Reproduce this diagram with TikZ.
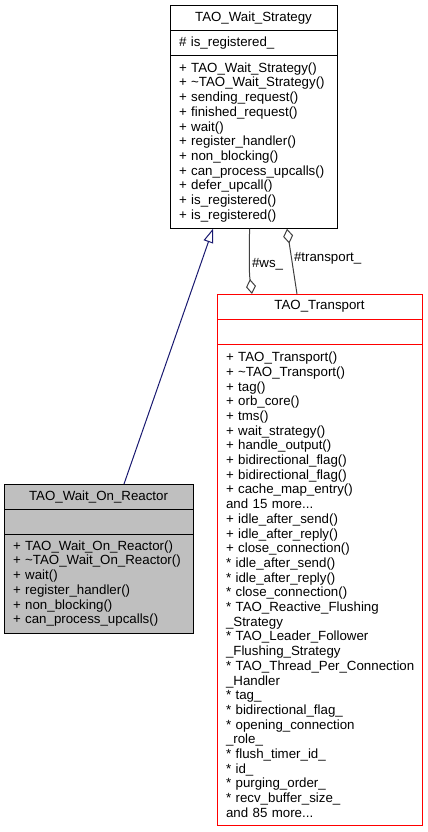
\documentclass[tikz,border=0pt]{standalone}
\usepackage{fontspec}
\setmainfont{Liberation Sans}
\usetikzlibrary{arrows.meta, positioning}
\definecolor{edgeNavy}{RGB}{25, 25, 112}
\definecolor{edgeGray}{RGB}{64, 64, 64}
\definecolor{transportRed}{RGB}{255, 0, 0}
\colorlet{reactorFill}{black!25}
\tikzset{
    compartment/.style={draw, line width=1pt, anchor=north west, inner xsep=9pt, inner ysep=0pt,
                        outer sep=0pt, align=left, font=\fontsize{13.3pt}{14.7pt}\selectfont},
    titlecell/.style={compartment, align=center, minimum height=25pt},
    emptycell/.style={compartment, minimum height=25pt},
    inherit/.style={draw=edgeNavy, line width=1pt, -{Triangle[open, length=14pt, width=10pt]}},
    aggregate/.style={draw=edgeGray, line width=1pt, -{Diamond[open, length=15pt, width=10pt]}},
    edgelabel/.style={font=\fontsize{13.3pt}{14.7pt}\selectfont, inner xsep=2pt}
}

\begin{document}
\begin{tikzpicture}[x=1pt, y=-1pt]
    \useasboundingbox (0,0) rectangle (428,832);

    % TAO_Wait_Strategy
    \node[titlecell, text width=149pt, minimum width=167pt] (strategyTitle) at (170,6) {TAO\_Wait\_Strategy};
    \node[emptycell, text width=149pt, minimum width=167pt, below=0pt of strategyTitle] (strategyAttrs) {\# is\_registered\_};
    \node[compartment, text width=149pt, minimum width=167pt, minimum height=172.7pt, below=0pt of strategyAttrs] (strategyOps)
        {+ TAO\_Wait\_Strategy()\\
         + \textasciitilde TAO\_Wait\_Strategy()\\
         + sending\_request()\\
         + finished\_request()\\
         + wait()\\
         + register\_handler()\\
         + non\_blocking()\\
         + can\_process\_upcalls()\\
         + defer\_upcall()\\
         + is\_registered()\\
         + is\_registered()};

    % TAO_Transport
    \node[titlecell, draw=transportRed, text width=187pt, minimum width=205pt] (transportTitle) at (217,294) {TAO\_Transport};
    \node[emptycell, draw=transportRed, text width=187pt, minimum width=205pt, below=0pt of transportTitle] (transportAttrs) {};
    \node[compartment, draw=transportRed, text width=187pt, minimum width=205pt, minimum height=481.4pt, below=0pt of transportAttrs] (transportOps)
        {+ TAO\_Transport()\\
         + \textasciitilde TAO\_Transport()\\
         + tag()\\
         + orb\_core()\\
         + tms()\\
         + wait\_strategy()\\
         + handle\_output()\\
         + bidirectional\_flag()\\
         + bidirectional\_flag()\\
         + cache\_map\_entry()\\
         and 15 more...\\
         + idle\_after\_send()\\
         + idle\_after\_reply()\\
         + close\_connection()\\
         {*} idle\_after\_send()\\
         {*} idle\_after\_reply()\\
         {*} close\_connection()\\
         {*} TAO\_Reactive\_Flushing\\
         \_Strategy\\
         {*} TAO\_Leader\_Follower\\
         \_Flushing\_Strategy\\
         \mbox{{*} TAO\_Thread\_Per\_Connection}\\
         \_Handler\\
         {*} tag\_\\
         {*} bidirectional\_flag\_\\
         {*} opening\_connection\\
         \_role\_\\
         {*} flush\_timer\_id\_\\
         {*} id\_\\
         {*} purging\_order\_\\
         {*} recv\_buffer\_size\_\\
         and 85 more...};

    % TAO_Wait_On_Reactor
    \node[titlecell, fill=reactorFill, text width=171pt, minimum width=189pt] (reactorTitle) at (4,484) {TAO\_Wait\_On\_Reactor};
    \node[emptycell, fill=reactorFill, text width=171pt, minimum width=189pt, below=0pt of reactorTitle] (reactorAttrs) {};
    \node[compartment, fill=reactorFill, text width=171pt, minimum width=189pt, minimum height=99.2pt, below=0pt of reactorAttrs] (reactorOps)
        {+ TAO\_Wait\_On\_Reactor()\\
         + \textasciitilde TAO\_Wait\_On\_Reactor()\\
         + wait()\\
         + register\_handler()\\
         + non\_blocking()\\
         + can\_process\_upcalls()};

    % Relations
    \draw[inherit] ([xshift=25.5pt]reactorTitle.north) -- ([xshift=-40.5pt]strategyOps.south);
    \draw[aggregate] ([xshift=-4pt]strategyOps.south) .. controls +(0,38) and +(-3,-22) .. ([xshift=-67.5pt]transportTitle.north)
        node[edgelabel, pos=0.45, right] {\#ws\_};
    \draw[aggregate] ([xshift=-22.5pt]transportTitle.north) -- ([xshift=33.5pt]strategyOps.south)
        node[edgelabel, pos=0.55, right] {\#transport\_};
\end{tikzpicture}
\end{document}
